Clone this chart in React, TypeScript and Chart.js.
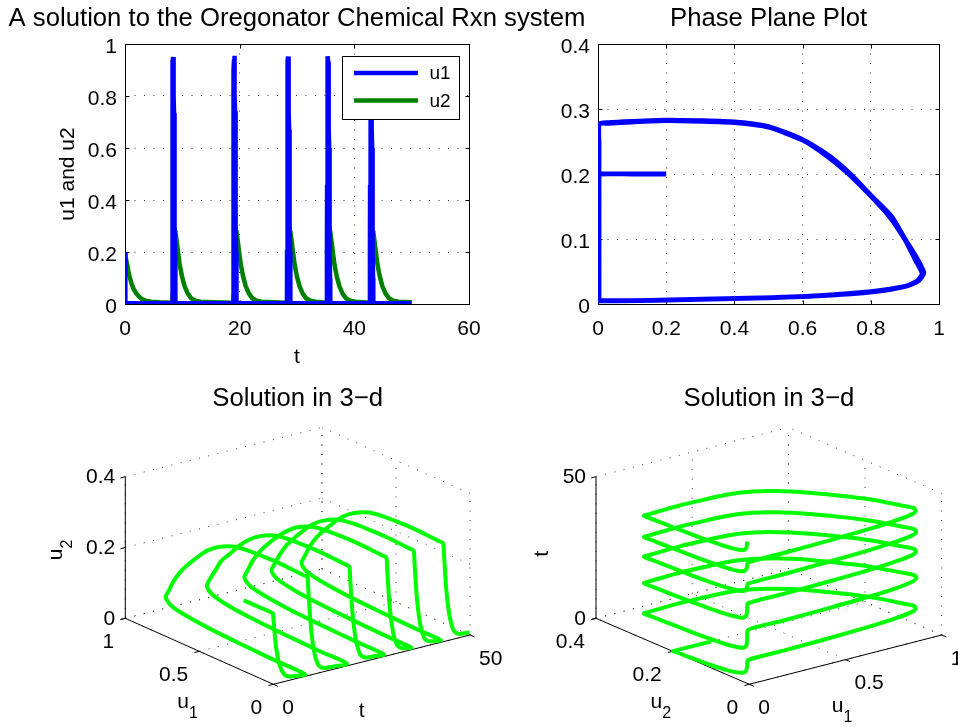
import React, { useEffect, useRef } from "react";
import { Chart, registerables } from "chart.js";

Chart.register(...registerables);

const FONT = '"Liberation Sans", Arial, Helvetica, sans-serif';
Chart.defaults.font.family = FONT;
Chart.defaults.color = "#000";

// ---------------- data ----------------
// initial transient (t, u1, u2)
const tInit = [0, 0.015, 0.03, 0.045, 0.15, 0.35, 0.6, 0.85, 1.15, 1.5, 2.0, 2.5, 3.0, 3.7, 4.6, 6.0];
const u1Init = [0.2, 0.1, 0.003, 0.003, 0.003, 0.003, 0.003, 0.003, 0.003, 0.003, 0.003, 0.003, 0.003, 0.003, 0.003, 0.003];
const u2Init = [0.2, 0.2, 0.2, 0.197, 0.185, 0.155, 0.125, 0.1, 0.078, 0.058, 0.04, 0.027, 0.018, 0.012, 0.009, 0.007];

// spike 1
const tC1 = [8.2, 8.22, 8.25, 8.28, 8.31, 8.34, 8.37, 8.4, 8.43, 8.46, 8.49, 8.52, 8.55, 8.58, 8.61, 8.64, 8.67, 8.7, 8.73, 8.76, 8.79, 8.82, 9.0, 9.25, 9.55, 9.95, 10.4, 10.95, 11.55, 12.3, 13.2, 15.5];
const u1C1 = [0.003, 0.2, 0.45, 0.65, 0.8, 0.9, 0.935, 0.95, 0.93, 0.9, 0.855, 0.8, 0.735, 0.675, 0.6, 0.5, 0.4, 0.3, 0.2, 0.1, 0.03, 0.004, 0.003, 0.003, 0.003, 0.003, 0.003, 0.003, 0.003, 0.003, 0.003, 0.003];
const u2C1 = [0.005, 0.006, 0.009, 0.013, 0.019, 0.027, 0.035, 0.047, 0.068, 0.099, 0.134, 0.166, 0.2, 0.228, 0.252, 0.272, 0.279, 0.281, 0.282, 0.28, 0.278, 0.277, 0.245, 0.2, 0.15, 0.105, 0.068, 0.04, 0.022, 0.013, 0.009, 0.007];

// spike 2
const tC2 = [18.85, 18.87, 18.9, 18.93, 18.96, 18.99, 19.02, 19.05, 19.08, 19.11, 19.14, 19.17, 19.2, 19.23, 19.26, 19.29, 19.32, 19.35, 19.38, 19.41, 19.44, 19.47, 19.65, 19.9, 20.2, 20.6, 21.05, 21.6, 22.2, 22.95, 23.85, 26.0];
const u1C2 = [0.003, 0.18, 0.44, 0.66, 0.81, 0.9, 0.94, 0.955, 0.935, 0.9, 0.86, 0.8, 0.74, 0.675, 0.6, 0.5, 0.4, 0.3, 0.2, 0.1, 0.03, 0.004, 0.003, 0.003, 0.003, 0.003, 0.003, 0.003, 0.003, 0.003, 0.003, 0.003];
const u2C2 = [0.005, 0.006, 0.009, 0.013, 0.019, 0.027, 0.036, 0.048, 0.07, 0.1, 0.135, 0.167, 0.2, 0.229, 0.253, 0.273, 0.28, 0.282, 0.283, 0.281, 0.279, 0.277, 0.246, 0.2, 0.151, 0.106, 0.069, 0.041, 0.022, 0.013, 0.009, 0.007];

// spike 3
const tC3 = [28.25, 28.27, 28.3, 28.33, 28.36, 28.39, 28.42, 28.45, 28.48, 28.51, 28.54, 28.57, 28.6, 28.63, 28.66, 28.69, 28.72, 28.75, 28.78, 28.81, 28.84, 28.87, 29.05, 29.3, 29.6, 30.0, 30.45, 31.0, 31.6, 32.35, 33.25, 34.3];
const u1C3 = [0.003, 0.2, 0.46, 0.66, 0.8, 0.9, 0.935, 0.952, 0.93, 0.9, 0.855, 0.8, 0.735, 0.67, 0.6, 0.5, 0.4, 0.3, 0.2, 0.1, 0.03, 0.004, 0.003, 0.003, 0.003, 0.003, 0.003, 0.003, 0.003, 0.003, 0.003, 0.003];
const u2C3 = [0.005, 0.006, 0.009, 0.013, 0.019, 0.027, 0.035, 0.047, 0.069, 0.1, 0.134, 0.166, 0.2, 0.228, 0.252, 0.272, 0.279, 0.281, 0.282, 0.28, 0.278, 0.277, 0.245, 0.2, 0.15, 0.105, 0.068, 0.04, 0.022, 0.013, 0.009, 0.007];

// spike 4
const tC4 = [35.2, 35.22, 35.25, 35.28, 35.31, 35.34, 35.37, 35.4, 35.43, 35.46, 35.49, 35.52, 35.55, 35.58, 35.61, 35.64, 35.67, 35.7, 35.73, 35.76, 35.79, 35.82, 36.0, 36.25, 36.55, 36.95, 37.4, 37.95, 38.55, 39.3, 40.2, 41.5];
const u1C4 = [0.003, 0.19, 0.45, 0.65, 0.8, 0.9, 0.937, 0.953, 0.932, 0.9, 0.855, 0.8, 0.735, 0.675, 0.6, 0.5, 0.4, 0.3, 0.2, 0.1, 0.03, 0.004, 0.003, 0.003, 0.003, 0.003, 0.003, 0.003, 0.003, 0.003, 0.003, 0.003];
const u2C4 = [0.005, 0.006, 0.009, 0.013, 0.019, 0.027, 0.035, 0.047, 0.068, 0.099, 0.134, 0.166, 0.2, 0.228, 0.252, 0.272, 0.279, 0.281, 0.282, 0.28, 0.278, 0.277, 0.245, 0.2, 0.15, 0.105, 0.068, 0.04, 0.022, 0.013, 0.009, 0.007];

// spike 5
const tC5 = [42.7, 42.72, 42.75, 42.78, 42.81, 42.84, 42.87, 42.9, 42.93, 42.96, 42.99, 43.02, 43.05, 43.08, 43.11, 43.14, 43.17, 43.2, 43.23, 43.26, 43.29, 43.32, 43.5, 43.75, 44.05, 44.45, 44.9, 45.45, 46.05, 46.8, 47.7, 50.0];
const u1C5 = [0.003, 0.2, 0.45, 0.65, 0.8, 0.9, 0.935, 0.95, 0.93, 0.9, 0.855, 0.8, 0.735, 0.675, 0.6, 0.5, 0.4, 0.3, 0.2, 0.1, 0.03, 0.004, 0.003, 0.003, 0.003, 0.003, 0.003, 0.003, 0.003, 0.003, 0.003, 0.003];
const u2C5 = [0.005, 0.006, 0.009, 0.013, 0.019, 0.027, 0.035, 0.047, 0.068, 0.099, 0.134, 0.166, 0.2, 0.228, 0.252, 0.272, 0.279, 0.281, 0.282, 0.28, 0.278, 0.277, 0.245, 0.2, 0.15, 0.105, 0.068, 0.04, 0.022, 0.013, 0.009, 0.007];

const T = [...tInit, ...tC1, ...tC2, ...tC3, ...tC4, ...tC5];
const U1 = [...u1Init, ...u1C1, ...u1C2, ...u1C3, ...u1C4, ...u1C5];
const U2 = [...u2Init, ...u2C1, ...u2C2, ...u2C3, ...u2C4, ...u2C5];

// tick values
const tTicks = [0, 20, 40, 60];
const uTicks = [0, 0.2, 0.4, 0.6, 0.8, 1];
const phaseXTicks = [0, 0.2, 0.4, 0.6, 0.8, 1];
const phaseYTicks = [0, 0.1, 0.2, 0.3, 0.4];
const u1Ticks3 = [0, 0.5, 1];
const u2Ticks3 = [0, 0.2, 0.4];
const tTicks3 = [0, 50];

const BLUE = "rgb(0,0,255)";
const DGREEN = "rgb(0,128,0)";
const LGREEN = "rgb(0,255,0)";
const TITLE_PX = 25.7;

// ---------------- helpers / plugins ----------------
const tickFont = { size: 21, family: FONT };
const gridOpts = { color: "#3a3a3a", lineWidth: 1, drawTicks: false };
const borderOpts = { display: false, dash: [1, 8.5] };

const setTicks = (arr: number[]) => (s: any) => {
  s.ticks = arr.map((v) => ({ value: v }));
};

function titlePlugin(text: string, y: number) {
  return {
    id: "axTitle",
    afterDraw(chart: any) {
      const { ctx, chartArea: a } = chart;
      ctx.save();
      ctx.font = `${TITLE_PX}px ${FONT}`;
      ctx.fillStyle = "#000";
      ctx.textAlign = "center";
      ctx.textBaseline = "alphabetic";
      ctx.fillText(text, (a.left + a.right) / 2, y);
      ctx.restore();
    },
  };
}

const box2D = {
  id: "box2D",
  beforeDatasetsDraw(chart: any) {
    const { ctx, chartArea: a, scales } = chart;
    const L = Math.round(a.left) + 0.5;
    const R = Math.round(a.right) + 0.5;
    const Tp = Math.round(a.top) + 0.5;
    const B = Math.round(a.bottom) + 0.5;
    ctx.save();
    ctx.strokeStyle = "#000";
    ctx.lineWidth = 1;
    ctx.setLineDash([]);
    ctx.beginPath();
    const tl = 4;
    scales.x.ticks.forEach((tk: any) => {
      const px = Math.round(scales.x.getPixelForValue(tk.value)) + 0.5;
      ctx.moveTo(px, B);
      ctx.lineTo(px, B - tl);
      ctx.moveTo(px, Tp);
      ctx.lineTo(px, Tp + tl);
    });
    scales.y.ticks.forEach((tk: any) => {
      const py = Math.round(scales.y.getPixelForValue(tk.value)) + 0.5;
      ctx.moveTo(L, py);
      ctx.lineTo(L + tl, py);
      ctx.moveTo(R, py);
      ctx.lineTo(R - tl, py);
    });
    ctx.stroke();
    ctx.strokeRect(L, Tp, R - L, B - Tp);
    ctx.restore();
  },
};

const boxLegend = {
  id: "boxLegend",
  afterDatasetsDraw(chart: any) {
    const { ctx, chartArea: a } = chart;
    const w = 117;
    const h = 63;
    const x0 = Math.round(a.right - 10 - w) + 0.5;
    const y0 = Math.round(a.top + 12) + 0.5;
    ctx.save();
    ctx.fillStyle = "#fff";
    ctx.fillRect(x0, y0, w, h);
    ctx.strokeStyle = "#000";
    ctx.lineWidth = 1;
    ctx.strokeRect(x0, y0, w, h);
    chart.data.datasets.forEach((ds: any, i: number) => {
      const y = y0 + 16.5 + i * 27.5;
      ctx.strokeStyle = ds.borderColor;
      ctx.lineWidth = ds.borderWidth;
      ctx.beginPath();
      ctx.moveTo(x0 + 11.5, y);
      ctx.lineTo(x0 + 75.5, y);
      ctx.stroke();
      ctx.fillStyle = "#000";
      ctx.font = `19px ${FONT}`;
      ctx.textAlign = "left";
      ctx.textBaseline = "middle";
      ctx.fillText(ds.label, x0 + 87, y + 1);
    });
    ctx.restore();
  },
};

// ---- 3-D view helpers ----
type Ax3 = { min: number; max: number; ticks: number[]; vec: [number, number] };
type View3 = { origin: [number, number]; L: Ax3; R: Ax3; V: Ax3 };
type Lab3 = { main: string; sub?: string; dx: number; dy: number; rot?: boolean };

function proj(v: View3, l: number, r: number, z: number) {
  const a = (l - v.L.min) / (v.L.max - v.L.min);
  const b = (r - v.R.min) / (v.R.max - v.R.min);
  const c = (z - v.V.min) / (v.V.max - v.V.min);
  return {
    x: v.origin[0] + a * v.L.vec[0] + b * v.R.vec[0] + c * v.V.vec[0],
    y: v.origin[1] + a * v.L.vec[1] + b * v.R.vec[1] + c * v.V.vec[1],
  };
}

function drawLabel(ctx: any, lab: Lab3, ax: number, ay: number) {
  ctx.save();
  ctx.font = `21px ${FONT}`;
  const w1 = ctx.measureText(lab.main).width;
  ctx.font = `16px ${FONT}`;
  const w2 = lab.sub ? ctx.measureText(lab.sub).width : 0;
  const total = w1 + w2;
  ctx.translate(ax + lab.dx, ay + lab.dy);
  if (lab.rot) ctx.rotate(-Math.PI / 2);
  ctx.fillStyle = "#000";
  ctx.textAlign = "left";
  ctx.textBaseline = "alphabetic";
  ctx.font = `21px ${FONT}`;
  ctx.fillText(lab.main, -total / 2, 0);
  if (lab.sub) {
    ctx.font = `16px ${FONT}`;
    ctx.fillText(lab.sub, -total / 2 + w1, 10);
  }
  ctx.restore();
}

function axes3Plugin(view: View3, labels: { L: Lab3; R: Lab3; V: Lab3 }, title: string, titleY: number) {
  return {
    id: "axes3",
    beforeDatasetsDraw(chart: any) {
      const { ctx } = chart;
      const sx = chart.scales.x;
      const sy = chart.scales.y;
      const P = (l: number, r: number, z: number): [number, number] => {
        const q = proj(view, l, r, z);
        return [sx.getPixelForValue(q.x), sy.getPixelForValue(q.y)];
      };
      const seg = (a: [number, number], b: [number, number]) => {
        ctx.beginPath();
        ctx.moveTo(a[0], a[1]);
        ctx.lineTo(b[0], b[1]);
        ctx.stroke();
      };
      const { L, R, V } = view;
      ctx.save();
      ctx.strokeStyle = "#3a3a3a";
      ctx.lineWidth = 1;
      ctx.setLineDash([1, 8.5]);
      R.ticks.forEach((r) => seg(P(L.max, r, V.min), P(L.max, r, V.max)));
      V.ticks.forEach((z) => seg(P(L.max, R.min, z), P(L.max, R.max, z)));
      L.ticks.forEach((l) => seg(P(l, R.max, V.min), P(l, R.max, V.max)));
      V.ticks.forEach((z) => seg(P(L.min, R.max, z), P(L.max, R.max, z)));
      L.ticks.forEach((l) => seg(P(l, R.min, V.min), P(l, R.max, V.min)));
      R.ticks.forEach((r) => seg(P(L.min, r, V.min), P(L.max, r, V.min)));

      ctx.setLineDash([]);
      ctx.strokeStyle = "#000";
      const O = P(L.min, R.min, V.min);
      const Lend = P(L.max, R.min, V.min);
      const Rend = P(L.min, R.max, V.min);
      seg(O, Lend);
      seg(O, Rend);
      seg(Lend, P(L.max, R.min, V.max));
      const unit = (a: [number, number], b: [number, number]) => {
        const dx = b[0] - a[0];
        const dy = b[1] - a[1];
        const n = Math.hypot(dx, dy);
        return [dx / n, dy / n];
      };
      const uL = unit(O, Lend);
      const uR = unit(O, Rend);
      const tl = 5;
      V.ticks.forEach((z) => {
        const p = P(L.max, R.min, z);
        seg(p, [p[0] - uR[0] * tl, p[1] - uR[1] * tl]);
      });
      L.ticks.forEach((l) => {
        const p = P(l, R.min, V.min);
        seg(p, [p[0] - uR[0] * tl, p[1] - uR[1] * tl]);
      });
      R.ticks.forEach((r) => {
        const p = P(L.min, r, V.min);
        seg(p, [p[0] - uL[0] * tl, p[1] - uL[1] * tl]);
      });

      ctx.fillStyle = "#000";
      ctx.font = `21px ${FONT}`;
      ctx.textBaseline = "middle";
      ctx.textAlign = "right";
      V.ticks.forEach((z) => {
        const p = P(L.max, R.min, z);
        ctx.fillText(String(z), p[0] - 10, p[1] + 1);
      });
      L.ticks.forEach((l) => {
        const p = P(l, R.min, V.min);
        ctx.fillText(String(l), p[0] - 11, p[1] + 24);
      });
      ctx.textAlign = "left";
      R.ticks.forEach((r) => {
        const p = P(L.min, r, V.min);
        ctx.fillText(String(r), p[0] + 9, p[1] + 24);
      });

      const mL = P((L.min + L.max) / 2, R.min, V.min);
      const mR = P(L.min, (R.min + R.max) / 2, V.min);
      const mV = P(L.max, R.min, (V.min + V.max) / 2);
      drawLabel(ctx, labels.L, mL[0], mL[1]);
      drawLabel(ctx, labels.R, mR[0], mR[1]);
      drawLabel(ctx, labels.V, mV[0], mV[1]);
      ctx.restore();
    },
    afterDraw(chart: any) {
      const { ctx } = chart;
      const sx = chart.scales.x;
      const a = proj(view, view.L.max, view.R.min, view.V.min);
      const b = proj(view, view.L.min, view.R.max, view.V.min);
      const cx = (sx.getPixelForValue(a.x) + sx.getPixelForValue(b.x)) / 2;
      ctx.save();
      ctx.font = `${TITLE_PX}px ${FONT}`;
      ctx.fillStyle = "#000";
      ctx.textAlign = "center";
      ctx.textBaseline = "alphabetic";
      ctx.fillText(title, cx, titleY);
      ctx.restore();
    },
  };
}

// ---------------- chart configs ----------------
function tsConfig(): any {
  return {
    type: "scatter",
    data: {
      datasets: [
        {
          label: "u1",
          data: T.map((t, i) => ({ x: t, y: U1[i] })),
          showLine: true,
          borderColor: BLUE,
          backgroundColor: BLUE,
          borderWidth: 4.5,
          pointRadius: 0,
          clip: 0,
        },
        {
          label: "u2",
          data: T.map((t, i) => ({ x: t, y: U2[i] })),
          showLine: true,
          borderColor: DGREEN,
          backgroundColor: DGREEN,
          borderWidth: 4.5,
          pointRadius: 0,
          clip: 0,
        },
      ],
    },
    options: {
      animation: false,
      responsive: false,
      maintainAspectRatio: false,
      devicePixelRatio: 1,
      layout: { padding: { left: 0, top: 44, right: 131, bottom: 0 } },
      scales: {
        x: {
          type: "linear",
          min: tTicks[0],
          max: tTicks[tTicks.length - 1],
          afterBuildTicks: setTicks(tTicks),
          ticks: { font: tickFont, color: "#000", padding: 13, maxRotation: 0, autoSkip: false, callback: (v: any) => String(v) },
          grid: gridOpts,
          border: borderOpts,
          title: { display: true, text: "t", font: { size: 21, family: FONT }, color: "#000", padding: 0 },
          afterFit: (s: any) => {
            s.height = 66;
          },
        },
        y: {
          type: "linear",
          min: uTicks[0],
          max: uTicks[uTicks.length - 1],
          afterBuildTicks: setTicks(uTicks),
          ticks: { font: tickFont, color: "#000", padding: 8, labelOffset: 3, autoSkip: false, callback: (v: any) => String(v) },
          grid: gridOpts,
          border: borderOpts,
          title: { display: true, text: "u1 and u2", font: { size: 21, family: FONT }, color: "#000", padding: { top: 55.4, bottom: 0 } },
          afterFit: (s: any) => {
            s.width = 125;
          },
        },
      },
      plugins: { legend: { display: false }, tooltip: { enabled: false } },
    },
    plugins: [box2D, boxLegend, titlePlugin("A solution to the Oregonator Chemical Rxn system", 26)],
  };
}

function phaseConfig(): any {
  return {
    type: "scatter",
    data: {
      datasets: [
        {
          label: "phase",
          data: U1.map((u, i) => ({ x: u, y: U2[i] })),
          showLine: true,
          borderColor: BLUE,
          backgroundColor: BLUE,
          borderWidth: 4.8,
          pointRadius: 0,
          tension: 0.2,
          clip: 0,
        },
      ],
    },
    options: {
      animation: false,
      responsive: false,
      maintainAspectRatio: false,
      devicePixelRatio: 1,
      layout: { padding: { left: 0, top: 44, right: 15, bottom: 0 } },
      scales: {
        x: {
          type: "linear",
          min: phaseXTicks[0],
          max: phaseXTicks[phaseXTicks.length - 1],
          afterBuildTicks: setTicks(phaseXTicks),
          ticks: { font: tickFont, color: "#000", padding: 13, maxRotation: 0, autoSkip: false, callback: (v: any) => String(v) },
          grid: gridOpts,
          border: borderOpts,
          afterFit: (s: any) => {
            s.height = 66;
          },
        },
        y: {
          type: "linear",
          min: phaseYTicks[0],
          max: phaseYTicks[phaseYTicks.length - 1],
          afterBuildTicks: setTicks(phaseYTicks),
          ticks: { font: tickFont, color: "#000", padding: 8, labelOffset: 3, autoSkip: false, callback: (v: any) => String(v) },
          grid: gridOpts,
          border: borderOpts,
          afterFit: (s: any) => {
            s.width = 118;
          },
        },
      },
      plugins: { legend: { display: false }, tooltip: { enabled: false } },
    },
    plugins: [box2D, titlePlugin("Phase Plane Plot", 26)],
  };
}

// 3-D views (screen directions of each axis, in canvas units)
const viewA: View3 = {
  origin: [273.3, 314.3],
  L: { min: 0, max: 1, ticks: u1Ticks3, vec: [-148, -66] },
  R: { min: 0, max: 50, ticks: tTicks3, vec: [196.7, -49.3] },
  V: { min: 0, max: 0.4, ticks: u2Ticks3, vec: [0, -141.6] },
};
const viewB: View3 = {
  origin: [269.3, 314.3],
  L: { min: 0, max: 0.4, ticks: u2Ticks3, vec: [-153.3, -66] },
  R: { min: 0, max: 1, ticks: u1Ticks3, vec: [192.4, -49.3] },
  V: { min: 0, max: 50, ticks: tTicks3, vec: [0, -141.6] },
};

function threeDConfig(view: View3, pts: { x: number; y: number }[], w: number, h: number, labels: any): any {
  return {
    type: "scatter",
    data: {
      datasets: [
        {
          label: "solution",
          data: pts,
          showLine: true,
          borderColor: LGREEN,
          backgroundColor: LGREEN,
          borderWidth: 4,
          pointRadius: 0,
          tension: 0.25,
          clip: false,
        },
      ],
    },
    options: {
      animation: false,
      responsive: false,
      maintainAspectRatio: false,
      devicePixelRatio: 1,
      layout: { padding: 0 },
      scales: {
        x: { type: "linear", min: 0, max: w, display: false },
        y: { type: "linear", min: 0, max: h, reverse: true, display: false },
      },
      plugins: { legend: { display: false }, tooltip: { enabled: false } },
    },
    plugins: [axes3Plugin(view, labels, "Solution in 3\u2212d", 36)],
  };
}

export default function App() {
  const r1 = useRef<HTMLCanvasElement>(null);
  const r2 = useRef<HTMLCanvasElement>(null);
  const r3 = useRef<HTMLCanvasElement>(null);
  const r4 = useRef<HTMLCanvasElement>(null);

  useEffect(() => {
    const ptsA = T.map((t, i) => proj(viewA, U1[i], t, U2[i]));
    const ptsB = T.map((t, i) => proj(viewB, U2[i], U1[i], t));
    const charts = [
      new Chart(r1.current as HTMLCanvasElement, tsConfig()),
      new Chart(r2.current as HTMLCanvasElement, phaseConfig()),
      new Chart(
        r3.current as HTMLCanvasElement,
        threeDConfig(viewA, ptsA, 520, 357, {
          L: { main: "u", sub: "1", dx: -11.8, dy: 57 },
          R: { main: "t", dx: -10, dy: 57 },
          V: { main: "u", sub: "2", dx: -63.6, dy: 2.5, rot: true },
        })
      ),
      new Chart(
        r4.current as HTMLCanvasElement,
        threeDConfig(viewB, ptsB, 478, 357, {
          L: { main: "u", sub: "2", dx: -11.9, dy: 56.7 },
          R: { main: "u", sub: "1", dx: -3.5, dy: 52 },
          V: { main: "t", dx: -47.7, dy: 6.3, rot: true },
        })
      ),
    ];
    return () => charts.forEach((c) => c.destroy());
  }, []);

  return (
    <div style={{ position: "fixed", left: 0, top: 0, width: 958, height: 727, background: "#fff", overflow: "hidden" }}>
      <canvas ref={r1} width={600} height={370} style={{ position: "absolute", left: 0, top: 0 }} />
      <canvas ref={r2} width={478} height={370} style={{ position: "absolute", left: 480, top: 0 }} />
      <canvas ref={r3} width={520} height={357} style={{ position: "absolute", left: 0, top: 370 }} />
      <canvas ref={r4} width={478} height={357} style={{ position: "absolute", left: 480, top: 370 }} />
    </div>
  );
}
